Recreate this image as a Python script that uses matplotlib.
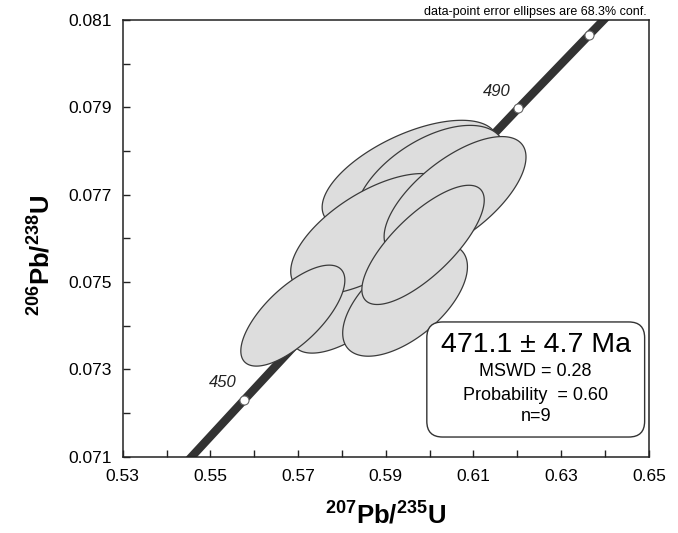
import numpy as np
import matplotlib
matplotlib.use("Agg")
import matplotlib.pyplot as plt
from matplotlib.ticker import FixedLocator
from matplotlib.patches import FancyBboxPatch

plt.rcParams['font.family'] = ['Liberation Sans', 'DejaVu Sans']
plt.rcParams['mathtext.fontset'] = 'custom'
plt.rcParams['mathtext.rm'] = 'Liberation Sans'
plt.rcParams['mathtext.bf'] = 'Liberation Sans:bold'
plt.rcParams['mathtext.it'] = 'Liberation Sans:italic'

# ---- data: analyses (1-sigma errors, error correlation), in drawing order ----
pb207_u235 = [0.5955, 0.6001, 0.5846, 0.5818, 0.5944, 0.5868, 0.6058, 0.5985, 0.5688]
err_207 = [0.01321, 0.01135, 0.00873, 0.00873, 0.00939, 0.01220, 0.01068, 0.00921, 0.00783]
pb206_u238 = [0.07745, 0.07722, 0.07493, 0.07447, 0.07459, 0.07610, 0.07695, 0.07585, 0.07423]
err_206 = [0.000827, 0.000902, 0.000831, 0.000725, 0.000851, 0.000913, 0.000911, 0.000901, 0.000763]
rho = [0.59, 0.53, 0.70, 0.65, 0.59, 0.62, 0.66, 0.75, 0.70]

# ---- concordia curve points (age in Ma) ----
conc_age = [440, 450, 460, 470, 480, 490, 500, 510]
conc_x = [0.5424, 0.5577, 0.5731, 0.5886, 0.6044, 0.6202, 0.6363, 0.6525]
conc_y = [0.070638, 0.072300, 0.073965, 0.075633, 0.077302, 0.078974, 0.080650, 0.082327]
conc_marker_ages = [450, 460, 470, 480, 490, 500]
conc_label_ages = [450, 490]

# ---- axes ticks ----
x_ticks = [0.53, 0.55, 0.57, 0.59, 0.61, 0.63, 0.65]
x_minor = [0.54, 0.56, 0.58, 0.60, 0.62, 0.64]
y_ticks = [0.071, 0.073, 0.075, 0.077, 0.079, 0.081]
y_minor = [0.072, 0.074, 0.076, 0.078, 0.080]

result_lines = ["471.1 \u00b1 4.7 Ma", "MSWD = 0.28", "Probability  = 0.60", "n=9"]
note = "data-point error ellipses are 68.3% conf."

K68 = 1.515  # 68.3% confidence scale for 2D

fig = plt.figure(figsize=(6.78, 5.33), dpi=100)
ax = fig.add_axes([0.181, 0.1432, 0.776, 0.8193])
ax.set_xlim(x_ticks[0], x_ticks[-1])
ax.set_ylim(y_ticks[0], y_ticks[-1])

# concordia
ax.plot(conc_x, conc_y, color='#333333', lw=6, solid_capstyle='butt', zorder=2)
idx = [conc_age.index(a) for a in conc_marker_ages]
ax.plot([conc_x[i] for i in idx], [conc_y[i] for i in idx], 'o', ms=6.5,
        mfc='white', mec='#666666', mew=0.8, zorder=3)
for a in conc_label_ages:
    i = conc_age.index(a)
    ax.annotate(str(a), (conc_x[i], conc_y[i]), xytext=(-21, 17),
                textcoords='offset pixels', ha='center', va='center',
                fontsize=12, style='italic', color='#222222', zorder=4)

# error ellipses
t = np.linspace(0, 2 * np.pi, 300)
for j in range(len(pb207_u235)):
    ex = pb207_u235[j] + K68 * err_207[j] * np.cos(t)
    ey = pb206_u238[j] + K68 * err_206[j] * (rho[j] * np.cos(t) + np.sqrt(1 - rho[j] ** 2) * np.sin(t))
    ax.fill(ex, ey, facecolor='#dddddd', edgecolor='#3a3a3a', lw=0.9, zorder=5 + j)

# ticks
ax.xaxis.set_major_locator(FixedLocator(x_ticks))
ax.xaxis.set_minor_locator(FixedLocator(x_minor))
ax.yaxis.set_major_locator(FixedLocator(y_ticks))
ax.yaxis.set_minor_locator(FixedLocator(y_minor))
ax.set_xticklabels([f"{v:.2f}" for v in x_ticks])
ax.set_yticklabels([f"{v:.3f}" for v in y_ticks])
ax.tick_params(which='both', direction='in', length=5, width=1, color='#222222',
               top=False, right=False, labelsize=12.5)
ax.tick_params(axis='x', pad=9)
ax.tick_params(axis='y', pad=8)
for s in ax.spines.values():
    s.set_linewidth(1.1)
    s.set_color('#222222')

ax.set_xlabel(r'$\mathbf{{}^{207}Pb/{}^{235}U}$', fontsize=18.5, labelpad=13)
ax.set_ylabel(r'$\mathbf{{}^{206}Pb/{}^{238}U}$', fontsize=18.5)
ax.yaxis.set_label_coords(-0.128, 0.46)

# note
ax.text(0.995, 1.004, note, transform=ax.transAxes, ha='right', va='bottom', fontsize=9)

# result box
bx0, bx1, by0, by1 = 0.578, 0.992, 0.045, 0.3085
box = FancyBboxPatch((bx0, by0), bx1 - bx0, by1 - by0,
                     boxstyle="round,pad=0,rounding_size=0.03", mutation_aspect=1.2,
                     transform=ax.transAxes, facecolor='white', edgecolor='#333333',
                     lw=1.0, zorder=20)
ax.add_patch(box)
cxb = (bx0 + bx1) / 2
ys = [0.256, 0.194, 0.141, 0.091]
sizes = [20.5, 13, 13, 13]
for s_, yy, fs in zip(result_lines, ys, sizes):
    ax.text(cxb, yy, s_, transform=ax.transAxes, ha='center', va='center',
            fontsize=fs, zorder=21)

fig.savefig('out.png', dpi=100)
